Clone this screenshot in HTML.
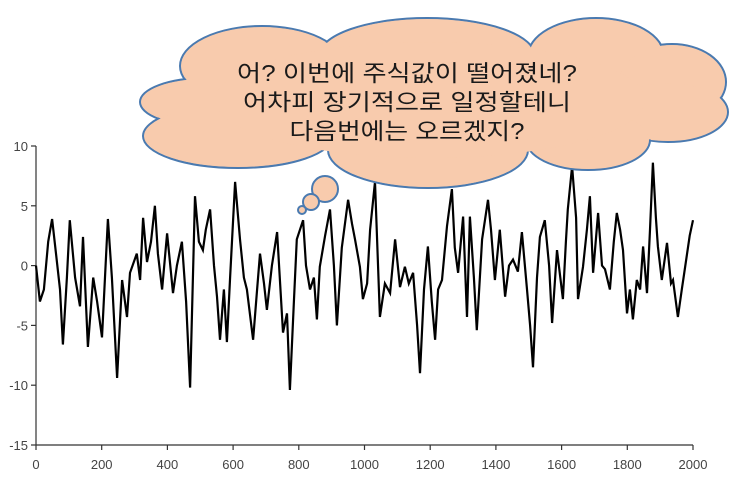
<!DOCTYPE html>
<html><head><meta charset="utf-8">
<style>
html,body{margin:0;padding:0;background:#fff;}
svg{display:block;}
text{font-family:"Liberation Sans","Noto Sans CJK KR",sans-serif;}
</style></head>
<body>
<svg id="chart" width="733" height="485" viewBox="0 0 733 485" xmlns="http://www.w3.org/2000/svg">
  <g id="axes"></g>
  <g id="series"></g>
  <g id="cloud"></g>
</svg>
<script>
const xTicks = [0,200,400,600,800,1000,1200,1400,1600,1800,2000];
const yTicks = [10,5,0,-5,-10,-15];
const seriesIndex = [0,12,24,37,49,61,73,82,94,103,119,134,143,158,174,186,201,219,231,247,262,277,286,307,317,326,338,350,362,371,384,399,417,429,444,457,469,484,496,508,517,530,542,551,560,572,581,591,606,621,633,642,661,673,682,694,703,718,734,752,764,773,785,794,813,822,834,846,855,864,880,895,907,916,931,950,962,971,986,995,1008,1017,1032,1047,1062,1078,1093,1108,1123,1135,1148,1160,1169,1181,1193,1205,1215,1224,1236,1251,1266,1275,1285,1300,1312,1321,1333,1342,1358,1376,1385,1397,1412,1428,1440,1452,1467,1479,1494,1504,1513,1525,1534,1549,1562,1571,1586,1604,1613,1619,1632,1644,1650,1665,1677,1686,1696,1711,1723,1732,1747,1759,1768,1778,1787,1799,1808,1817,1829,1839,1848,1860,1869,1878,1887,1893,1905,1921,1933,1939,1954,1966,1975,1990,2000];
const seriesValue = [0,-3,-2,2,3.9,1,-2,-6.6,-1,3.8,-1,-3.4,2.4,-6.8,-1,-3,-6,3.9,-1,-9.4,-1.2,-4.3,-0.6,1,-1.2,4,0.3,2,5,1,-2,2.7,-2.3,0,2,-3,-10.2,5.8,2,1.3,3,4.7,0,-2.6,-6.2,-2,-6.4,-1,7,2.2,-1,-2,-6.2,-2,1,-1.5,-3.7,0,2.8,-5.6,-4,-10.4,-3,2.2,3.8,0,-2,-1,-4.5,-0.1,2.5,4.7,0,-5,1.5,5.5,3.5,2.2,-0.1,-2.8,-1.5,3,7,-4.3,-1.5,-2.3,2.2,-1.8,-0.1,-1.5,-0.6,-5,-9,-2,1.6,-3,-6.2,-2,-1.2,3.3,6.4,1.5,-0.6,4.1,-4.3,4.1,-1,-5.4,2.2,5.5,3,-1.2,3,-2.6,0,0.5,-0.5,2.8,-1.8,-5,-8.5,-1,2.4,3.8,0,-4.8,1.3,-2.8,2,4.7,8.3,4,-2.8,-0.1,3,5.8,-0.6,4.4,0,-0.3,-2,2,4.4,3,1.3,-4,-2,-4.5,-1.2,-2,1.6,-2.3,3,8.6,4,1.6,-1.2,1.9,-1.5,-1.2,-4.3,-2,-0.3,2.5,3.8];
const textLines = ["어? 이번에 주식값이 떨어졌네?","어차피 장기적으로 일정할테니","다음번에는 오르겠지?"];

const NS="http://www.w3.org/2000/svg";
const X0=36,X1=693,Y10=146,Ym15=445;
function xs(v){return X0+(v-0)/(2000-0)*(X1-X0);}
function ys(v){return Y10+(10-v)/(10-(-15))*(Ym15-Y10);}
function mk(tag,attrs,parent){const e=document.createElementNS(NS,tag);for(const k in attrs)e.setAttribute(k,attrs[k]);parent.appendChild(e);return e;}

const axes=document.getElementById('axes');
let yAxis=mk('line',{x1:X0,y1:Y10,x2:X0,y2:Ym15,stroke:'#333','stroke-width':1.2},axes);


let xAxis=mk('line',{x1:X0,y1:Ym15,x2:X1,y2:Ym15,stroke:'#333','stroke-width':1.2},axes);


yTicks.forEach(v=>{
  const y=ys(v);
  const t=mk('line',{x1:X0-5,y1:y,x2:X0,y2:y,stroke:'#333','stroke-width':1.2},axes);
  
  
  const l=mk('text',{x:28,y:y+5,'text-anchor':'end','font-size':13,fill:'#444'},axes);
  l.textContent=String(v);
  
  
});
xTicks.forEach(v=>{
  const x=xs(v);
  const t=mk('line',{x1:x,y1:Ym15,x2:x,y2:Ym15+5,stroke:'#333','stroke-width':1.2},axes);
  
  
  const l=mk('text',{x:x,y:469,'text-anchor':'middle','font-size':13,fill:'#444'},axes);
  l.textContent=String(v);
  
  
});

const series=document.getElementById('series');
let d='';
seriesIndex.forEach((idx,i)=>{d+=(i?'L':'M')+xs(idx).toFixed(1)+','+ys(seriesValue[i]).toFixed(1);});
const line=mk('path',{d:d,fill:'none',stroke:'#000','stroke-width':2.2,'stroke-linejoin':'miter'},series);



// thought cloud
const cloud=document.getElementById('cloud');
const lobes=[[262,66,82,40],[427,56,108,38],[596,56,68,38],[672,82,54,38],[668,112,60,30],[205,102,65,24],[238,136,95,32],[428,150,100,38],[588,140,62,30]];
const ST='#4a7ab0',FL='#f8cbad';
lobes.forEach(l=>mk('ellipse',{cx:l[0],cy:l[1],rx:l[2],ry:l[3],fill:FL,stroke:ST,'stroke-width':2},cloud));
lobes.forEach(l=>mk('ellipse',{cx:l[0],cy:l[1],rx:l[2]-1.2,ry:l[3]-1.2,fill:FL},cloud));
mk('ellipse',{cx:430,cy:100,rx:215,ry:58,fill:FL},cloud);
[[325,189,13],[311,202,8],[302,210,4]].forEach(b=>{
  const c=mk('circle',{cx:b[0],cy:b[1],r:b[2],fill:FL,stroke:ST,'stroke-width':2},cloud);
  
  
});
const lens=[340,328,235];
textLines.forEach((s,i)=>{
  const t=mk('text',{x:407,y:81+i*29,'text-anchor':'middle','font-size':23,fill:'#1a1a1a',textLength:lens[i],lengthAdjust:'spacingAndGlyphs'},cloud);
  t.textContent=s;
  
  
});
</script>
</body></html>
